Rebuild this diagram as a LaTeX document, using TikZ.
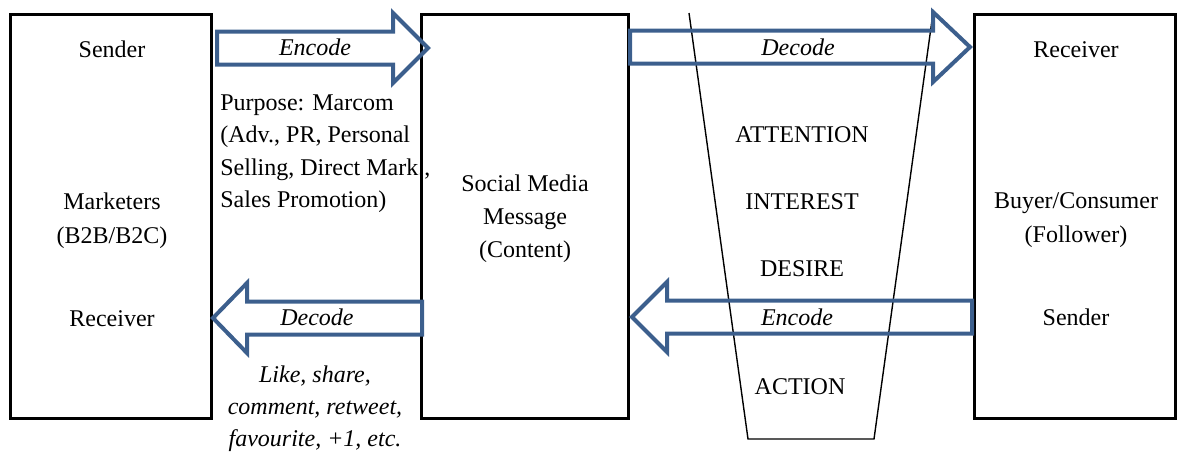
\documentclass[tikz,border=0pt]{standalone}
\usepackage{fontspec}
\setmainfont{Liberation Serif}
\usetikzlibrary{calc}
\definecolor{arrowblue}{HTML}{3C5F8D}
\tikzset{
  panel/.style={draw=black, line width=1.5pt, rectangle, inner sep=0pt, outer sep=0pt, anchor=north west},
  blockline/.style={draw=arrowblue, line width=2pt, line join=miter},
  funnelline/.style={draw=black, line width=0.7pt},
  lbl/.style={font=\fontsize{12pt}{16.5pt}\selectfont, anchor=base, inner sep=0pt, align=center},
  ilbl/.style={lbl, font=\fontsize{12pt}{16pt}\selectfont\itshape},
}
% block arrow: tail x, head-back x, tip x, centre y
\newcommand{\blockarrow}[4]{%
  \draw[blockline] (#1,#4-16.5) -- (#2,#4-16.5) -- (#2,#4-35) -- (#3,#4)
    -- (#2,#4+35) -- (#2,#4+16.5) -- (#1,#4+16.5) -- cycle;}
\begin{document}
\begin{tikzpicture}[x=0.5pt, y=-0.5pt]
\useasboundingbox (0,0) rectangle (1178,451);

% AIDA funnel
\draw[funnelline] (689,13) -- (748,439) -- (874,439) -- (933,13);

% the three participants
\node[panel, minimum width=100.5pt, minimum height=202pt] (marketers) at (10,14) {};
\node[panel, minimum width=103.5pt, minimum height=202pt] (message) at (421,14) {};
\node[panel, minimum width=100.5pt, minimum height=202pt] (buyer) at (974,14) {};

% block arrows
\blockarrow{217}{393}{428}{48}
\blockarrow{630}{933}{970}{47}
\blockarrow{422}{247}{213}{318}
\blockarrow{972}{667}{632}{317}

% arrow labels
\node[ilbl] (enc1) at (315,55) {Encode};
\node[ilbl] (dec1) at (798,55) {Decode};
\node[ilbl] (dec2) at (317,325) {Decode};
\node[ilbl] (enc2) at (797,325) {Encode};

% left box (multi-line nodes sit on the baseline of their last line)
\node[lbl] (lsend) at (112,57) {Sender};
\node[lbl, font=\fontsize{12pt}{17pt}\selectfont] (lmark) at (112,243) {Marketers\\(B2B/B2C)};
\node[lbl] (lrecv) at (112,326) {Receiver};

% middle box
\node[lbl] (mmsg) at (525,257) {Social Media\\Message\\(Content)};

% right box
\node[lbl] (rrecv) at (1076,57) {Receiver};
\node[lbl, font=\fontsize{12pt}{17pt}\selectfont] (rbuy) at (1076,242) {Buyer/Consumer\\(Follower)};
\node[lbl] (rsend) at (1076,325) {Sender};

% funnel stages
\node[lbl] (att) at (802,142) {ATTENTION};
\node[lbl] (int) at (802,209) {INTEREST};
\node[lbl] (des) at (802,276) {DESIRE};
\node[lbl] (act) at (800,394) {ACTION};

% purpose and feedback notes
\node[lbl, font=\fontsize{12pt}{16.25pt}\selectfont, align=left, anchor=base west] (purpose) at (220,207.5)
  {Purpose: Marcom\\(Adv., PR, Personal\\Selling, Direct Mark.,\\Sales Promotion)};
\node[ilbl] (feedback) at (315,446) {Like, share,\\comment, retweet,\\favourite, +1, etc.};
\end{tikzpicture}
\end{document}
